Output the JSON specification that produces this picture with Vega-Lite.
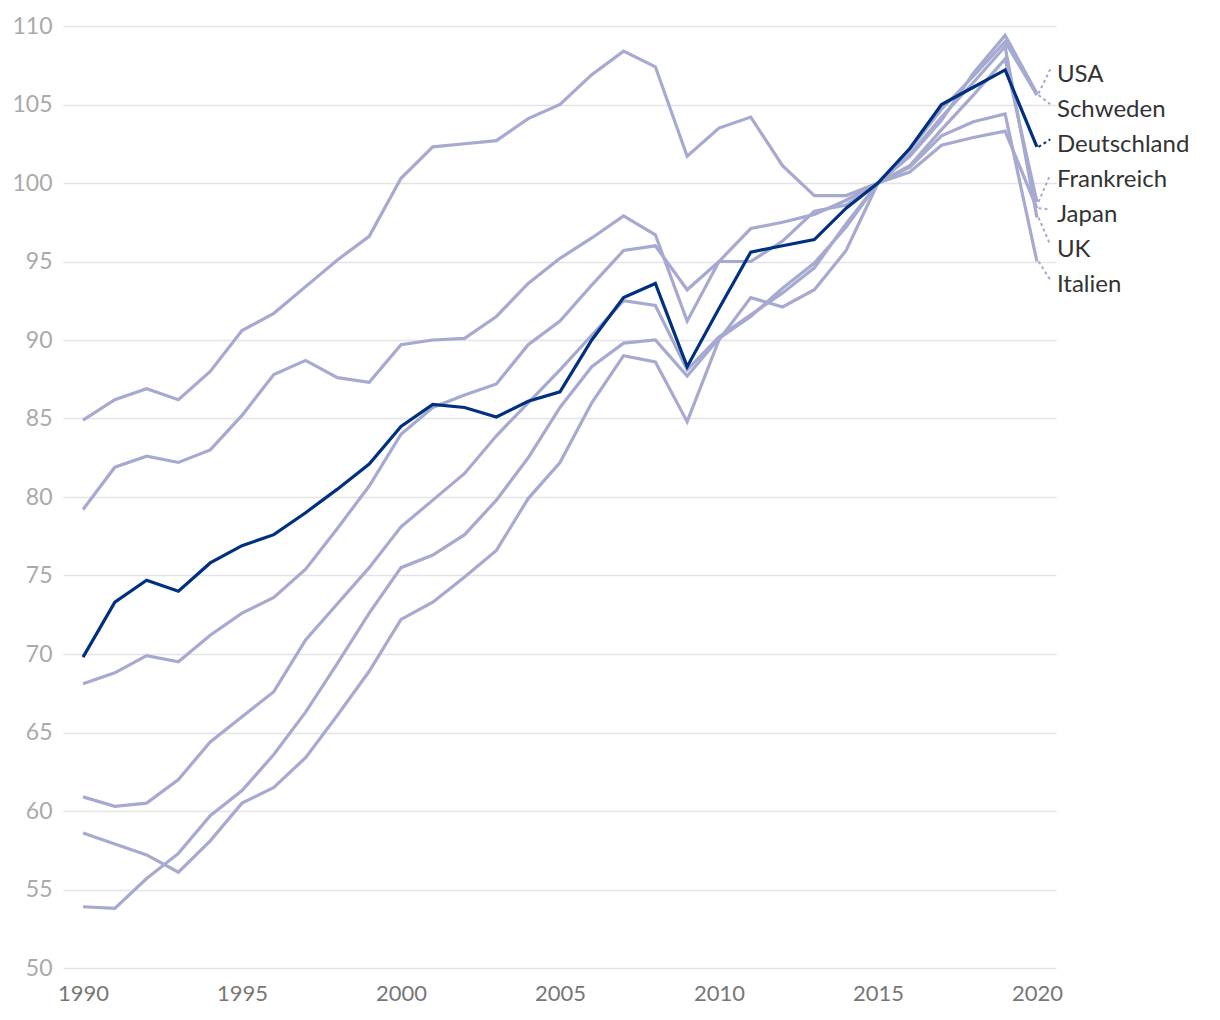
{
  "$schema": "https://vega.github.io/schema/vega-lite/v6.json",
  "width": 993,
  "height": 942,
  "autosize": {"type": "none"},
  "padding": {"left": 63, "top": 26, "right": 164, "bottom": 52},
  "background": "white",
  "config": {"font": "Lato", "view": {"stroke": null}},
  "data": {
    "values": [
      {"Jahr": 1990, "USA": 53.9, "Schweden": 58.6, "Deutschland": 69.8, "Frankreich": 68.1, "Japan": 79.2, "UK": 60.9, "Italien": 84.9},
      {"Jahr": 1991, "USA": 53.8, "Schweden": 57.9, "Deutschland": 73.3, "Frankreich": 68.8, "Japan": 81.9, "UK": 60.3, "Italien": 86.2},
      {"Jahr": 1992, "USA": 55.7, "Schweden": 57.2, "Deutschland": 74.7, "Frankreich": 69.9, "Japan": 82.6, "UK": 60.5, "Italien": 86.9},
      {"Jahr": 1993, "USA": 57.3, "Schweden": 56.1, "Deutschland": 74.0, "Frankreich": 69.5, "Japan": 82.2, "UK": 62.0, "Italien": 86.2},
      {"Jahr": 1994, "USA": 59.7, "Schweden": 58.1, "Deutschland": 75.8, "Frankreich": 71.2, "Japan": 83.0, "UK": 64.4, "Italien": 88.0},
      {"Jahr": 1995, "USA": 61.3, "Schweden": 60.5, "Deutschland": 76.9, "Frankreich": 72.6, "Japan": 85.2, "UK": 66.0, "Italien": 90.6},
      {"Jahr": 1996, "USA": 63.6, "Schweden": 61.5, "Deutschland": 77.6, "Frankreich": 73.6, "Japan": 87.8, "UK": 67.6, "Italien": 91.7},
      {"Jahr": 1997, "USA": 66.3, "Schweden": 63.4, "Deutschland": 79.0, "Frankreich": 75.4, "Japan": 88.7, "UK": 70.9, "Italien": 93.4},
      {"Jahr": 1998, "USA": 69.4, "Schweden": 66.1, "Deutschland": 80.5, "Frankreich": 78.0, "Japan": 87.6, "UK": 73.2, "Italien": 95.1},
      {"Jahr": 1999, "USA": 72.6, "Schweden": 68.9, "Deutschland": 82.1, "Frankreich": 80.7, "Japan": 87.3, "UK": 75.5, "Italien": 96.6},
      {"Jahr": 2000, "USA": 75.5, "Schweden": 72.2, "Deutschland": 84.5, "Frankreich": 84.0, "Japan": 89.7, "UK": 78.1, "Italien": 100.3},
      {"Jahr": 2001, "USA": 76.3, "Schweden": 73.3, "Deutschland": 85.9, "Frankreich": 85.7, "Japan": 90.0, "UK": 79.8, "Italien": 102.3},
      {"Jahr": 2002, "USA": 77.6, "Schweden": 74.9, "Deutschland": 85.7, "Frankreich": 86.5, "Japan": 90.1, "UK": 81.5, "Italien": 102.5},
      {"Jahr": 2003, "USA": 79.8, "Schweden": 76.6, "Deutschland": 85.1, "Frankreich": 87.2, "Japan": 91.5, "UK": 83.9, "Italien": 102.7},
      {"Jahr": 2004, "USA": 82.5, "Schweden": 79.9, "Deutschland": 86.1, "Frankreich": 89.7, "Japan": 93.6, "UK": 86.0, "Italien": 104.1},
      {"Jahr": 2005, "USA": 85.7, "Schweden": 82.2, "Deutschland": 86.7, "Frankreich": 91.2, "Japan": 95.2, "UK": 88.1, "Italien": 105.0},
      {"Jahr": 2006, "USA": 88.3, "Schweden": 86.0, "Deutschland": 90.0, "Frankreich": 93.5, "Japan": 96.5, "UK": 90.3, "Italien": 106.9},
      {"Jahr": 2007, "USA": 89.8, "Schweden": 89.0, "Deutschland": 92.7, "Frankreich": 95.7, "Japan": 97.9, "UK": 92.5, "Italien": 108.4},
      {"Jahr": 2008, "USA": 90.0, "Schweden": 88.6, "Deutschland": 93.6, "Frankreich": 96.0, "Japan": 96.7, "UK": 92.2, "Italien": 107.4},
      {"Jahr": 2009, "USA": 87.7, "Schweden": 84.8, "Deutschland": 88.3, "Frankreich": 93.2, "Japan": 91.2, "UK": 88.1, "Italien": 101.7},
      {"Jahr": 2010, "USA": 90.1, "Schweden": 90.0, "Deutschland": 92.0, "Frankreich": 95.0, "Japan": 95.0, "UK": 90.2, "Italien": 103.5},
      {"Jahr": 2011, "USA": 91.5, "Schweden": 92.7, "Deutschland": 95.6, "Frankreich": 97.1, "Japan": 95.0, "UK": 91.6, "Italien": 104.2},
      {"Jahr": 2012, "USA": 93.3, "Schweden": 92.1, "Deutschland": 96.0, "Frankreich": 97.5, "Japan": 96.3, "UK": 93.0, "Italien": 101.1},
      {"Jahr": 2013, "USA": 94.9, "Schweden": 93.2, "Deutschland": 96.4, "Frankreich": 98.0, "Japan": 98.2, "UK": 94.6, "Italien": 99.2},
      {"Jahr": 2014, "USA": 97.2, "Schweden": 95.7, "Deutschland": 98.4, "Frankreich": 98.9, "Japan": 98.6, "UK": 97.4, "Italien": 99.2},
      {"Jahr": 2015, "USA": 100.0, "Schweden": 100.0, "Deutschland": 100.0, "Frankreich": 100.0, "Japan": 100.0, "UK": 100.0, "Italien": 100.0},
      {"Jahr": 2016, "USA": 101.7, "Schweden": 102.1, "Deutschland": 102.2, "Frankreich": 101.1, "Japan": 100.7, "UK": 101.8, "Italien": 101.0},
      {"Jahr": 2017, "USA": 104.0, "Schweden": 104.7, "Deutschland": 105.0, "Frankreich": 103.4, "Japan": 102.4, "UK": 104.2, "Italien": 103.0},
      {"Jahr": 2018, "USA": 107.0, "Schweden": 106.8, "Deutschland": 106.1, "Frankreich": 105.6, "Japan": 102.9, "UK": 106.4, "Italien": 103.9},
      {"Jahr": 2019, "USA": 109.4, "Schweden": 109.0, "Deutschland": 107.2, "Frankreich": 107.9, "Japan": 103.3, "UK": 108.7, "Italien": 104.4},
      {"Jahr": 2020, "USA": 105.7, "Schweden": 105.6, "Deutschland": 102.3, "Frankreich": 98.8, "Japan": 98.4, "UK": 97.8, "Italien": 95.0}
    ]
  },
  "transform": [
    {"fold": ["USA", "Schweden", "Deutschland", "Frankreich", "Japan", "UK", "Italien"], "as": ["Land", "Wert"]}
  ],
  "layer": [
    {
      "transform": [{"filter": "datum.Land !== 'Deutschland'"}],
      "mark": {"type": "line", "strokeWidth": 3.2, "color": "#a6a9d0"},
      "encoding": {
        "x": {
          "field": "Jahr", "type": "quantitative", "title": null,
          "scale": {"domain": [1989.37, 2020.6], "nice": false, "zero": false},
          "axis": {
            "values": [1990, 1995, 2000, 2005, 2010, 2015, 2020], "format": "d",
            "grid": false, "domain": false, "ticks": false, "tickSize": 0,
            "labelPadding": 15, "labelFontSize": 22, "labelColor": "#777777", "labelFont": "Lato"
          }
        },
        "y": {
          "field": "Wert", "type": "quantitative", "title": null,
          "scale": {"domain": [50, 110], "nice": false, "zero": false},
          "axis": {
            "values": [50, 55, 60, 65, 70, 75, 80, 85, 90, 95, 100, 105, 110],
            "grid": true, "gridColor": "#e4e4e4", "gridWidth": 1.5,
            "domain": false, "ticks": false, "tickSize": 0,
            "labelPadding": 11, "labelFontSize": 23, "labelColor": "#aaaaaa", "labelFont": "Lato"
          }
        },
        "detail": {"field": "Land"}
      }
    },
    {
      "transform": [{"filter": "datum.Land === 'Deutschland'"}],
      "mark": {"type": "line", "strokeWidth": 3.2, "color": "#00307f"},
      "encoding": {
        "x": {"field": "Jahr", "type": "quantitative", "title": null},
        "y": {"field": "Wert", "type": "quantitative", "title": null}
      }
    },
    {
      "transform": [
        {"filter": "datum.Jahr === 2020"},
        {"window": [{"op": "row_number", "as": "rang"}], "sort": [{"field": "Wert", "order": "descending"}]},
        {"calculate": "106.9 - (datum.rang - 1) * 2.236", "as": "labelY"},
        {"calculate": "datum.labelY + 0.35", "as": "ziel"}
      ],
      "layer": [
        {
          "mark": {"type": "rule", "strokeWidth": 2, "strokeDash": [3, 3]},
          "encoding": {
            "x": {"datum": 2020.05, "type": "quantitative", "title": null},
            "x2": {"datum": 2020.42},
            "y": {"field": "Wert", "type": "quantitative", "title": null},
            "y2": {"field": "ziel"},
            "color": {
              "field": "Land", "type": "nominal", "legend": null,
              "scale": {
                "domain": ["USA", "Schweden", "Deutschland", "Frankreich", "Japan", "UK", "Italien"],
                "range": ["#a6a9d0", "#a6a9d0", "#00307f", "#a6a9d0", "#a6a9d0", "#a6a9d0", "#a6a9d0"]
              }
            }
          }
        },
        {
          "mark": {"type": "text", "align": "left", "baseline": "middle", "fontSize": 24, "color": "#333333", "font": "Lato"},
          "encoding": {
            "x": {"datum": 2020.63, "type": "quantitative", "title": null},
            "y": {"field": "labelY", "type": "quantitative", "title": null},
            "text": {"field": "Land"}
          }
        }
      ]
    }
  ]
}
